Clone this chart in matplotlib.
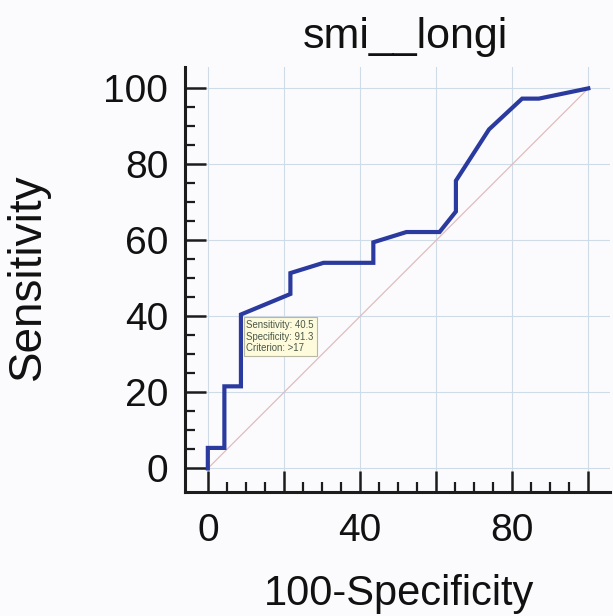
import matplotlib
matplotlib.use('Agg')
import matplotlib.pyplot as plt
from matplotlib.ticker import FixedLocator

# ROC curve points (100-Specificity, Sensitivity)
fpr = [0, 0, 4.35, 4.35, 8.7, 8.7, 21.7, 21.7, 30.4, 43.5, 43.5,
       52.2, 60.9, 65.2, 65.2, 73.9, 82.6, 87.0, 100]
tpr = [0, 5.4, 5.4, 21.6, 21.6, 40.5, 45.9, 51.4, 54.1, 54.1, 59.5,
       62.2, 62.2, 67.6, 75.7, 89.2, 97.3, 97.3, 100]

ref_line = [0, 100]
xtick_vals = [0, 20, 40, 60, 80, 100]
xtick_labels = ['0', '', '40', '', '80', '']
ytick_vals = [0, 20, 40, 60, 80, 100]
ytick_labels = ['0', '20', '40', '60', '80', '100']
minor_vals = [v for v in range(5, 100, 5) if v % 20]

best_point = (8.7, 40.5)
best_text = 'Sensitivity: 40.5\nSpecificity: 91.3\nCriterion: >17'

plt.rcParams['font.family'] = ['Liberation Sans', 'DejaVu Sans']

W, H = 613, 616
fig = plt.figure(figsize=(W / 100, H / 100), dpi=100)
fig.patch.set_facecolor('#fbfbfd')
ax = fig.add_axes([185 / W, 1 - 492 / H, (610 - 185) / W, (492 - 66.7) / H])
ax.set_facecolor('#fbfbfd')

ax.grid(True, color='#d0dbe8', linewidth=0.8, zorder=0)
ax.plot(ref_line, ref_line, color='#e2bcbc', linewidth=0.9, zorder=2)
ax.plot(fpr, tpr, color='#2a3a9e', linewidth=3.0, solid_joinstyle='miter', zorder=3)

ax.annotate(best_text, xy=best_point, xytext=(4, -4), textcoords='offset points',
            ha='left', va='top', fontsize=6.9, color='#4a5648', linespacing=1.2,
            bbox=dict(boxstyle='square,pad=0.3', facecolor='#fdfbdc',
                      edgecolor='#b8b8a0', linewidth=0.8), zorder=4)

ax.set_xlim(-6, 105.7)
ax.set_ylim(-6.2, 105.7)
ax.set_xticks(xtick_vals)
ax.set_xticklabels(xtick_labels)
ax.set_yticks(ytick_vals)
ax.set_yticklabels(ytick_labels)
ax.xaxis.set_minor_locator(FixedLocator(minor_vals))
ax.yaxis.set_minor_locator(FixedLocator(minor_vals))

for s in ['top', 'right']:
    ax.spines[s].set_visible(False)
for s in ['left', 'bottom']:
    ax.spines[s].set_linewidth(2.2)
    ax.spines[s].set_color('#1c1c1c')

ax.tick_params(axis='both', which='major', direction='in', length=15, width=1.8,
               color='#1c1c1c', labelsize=28, labelcolor='#111111')
ax.tick_params(axis='both', which='minor', direction='in', length=7.5, width=1.6,
               color='#1c1c1c')
ax.tick_params(axis='y', which='major', pad=12)
ax.tick_params(axis='x', which='major', pad=15)

fig.text(405 / W, 1 - 48 / H, 'smi__longi', ha='center', va='baseline',
         fontsize=31, color='#111111')
fig.text(28 / W, 1 - 277 / H, 'Sensitivity', ha='center', va='center',
         rotation=90, fontsize=33, color='#111111')
fig.text(399 / W, 1 - 605 / H, '100-Specificity', ha='center', va='baseline',
         fontsize=30, color='#111111')

fig.savefig('out.png', dpi=100, facecolor=fig.get_facecolor())
